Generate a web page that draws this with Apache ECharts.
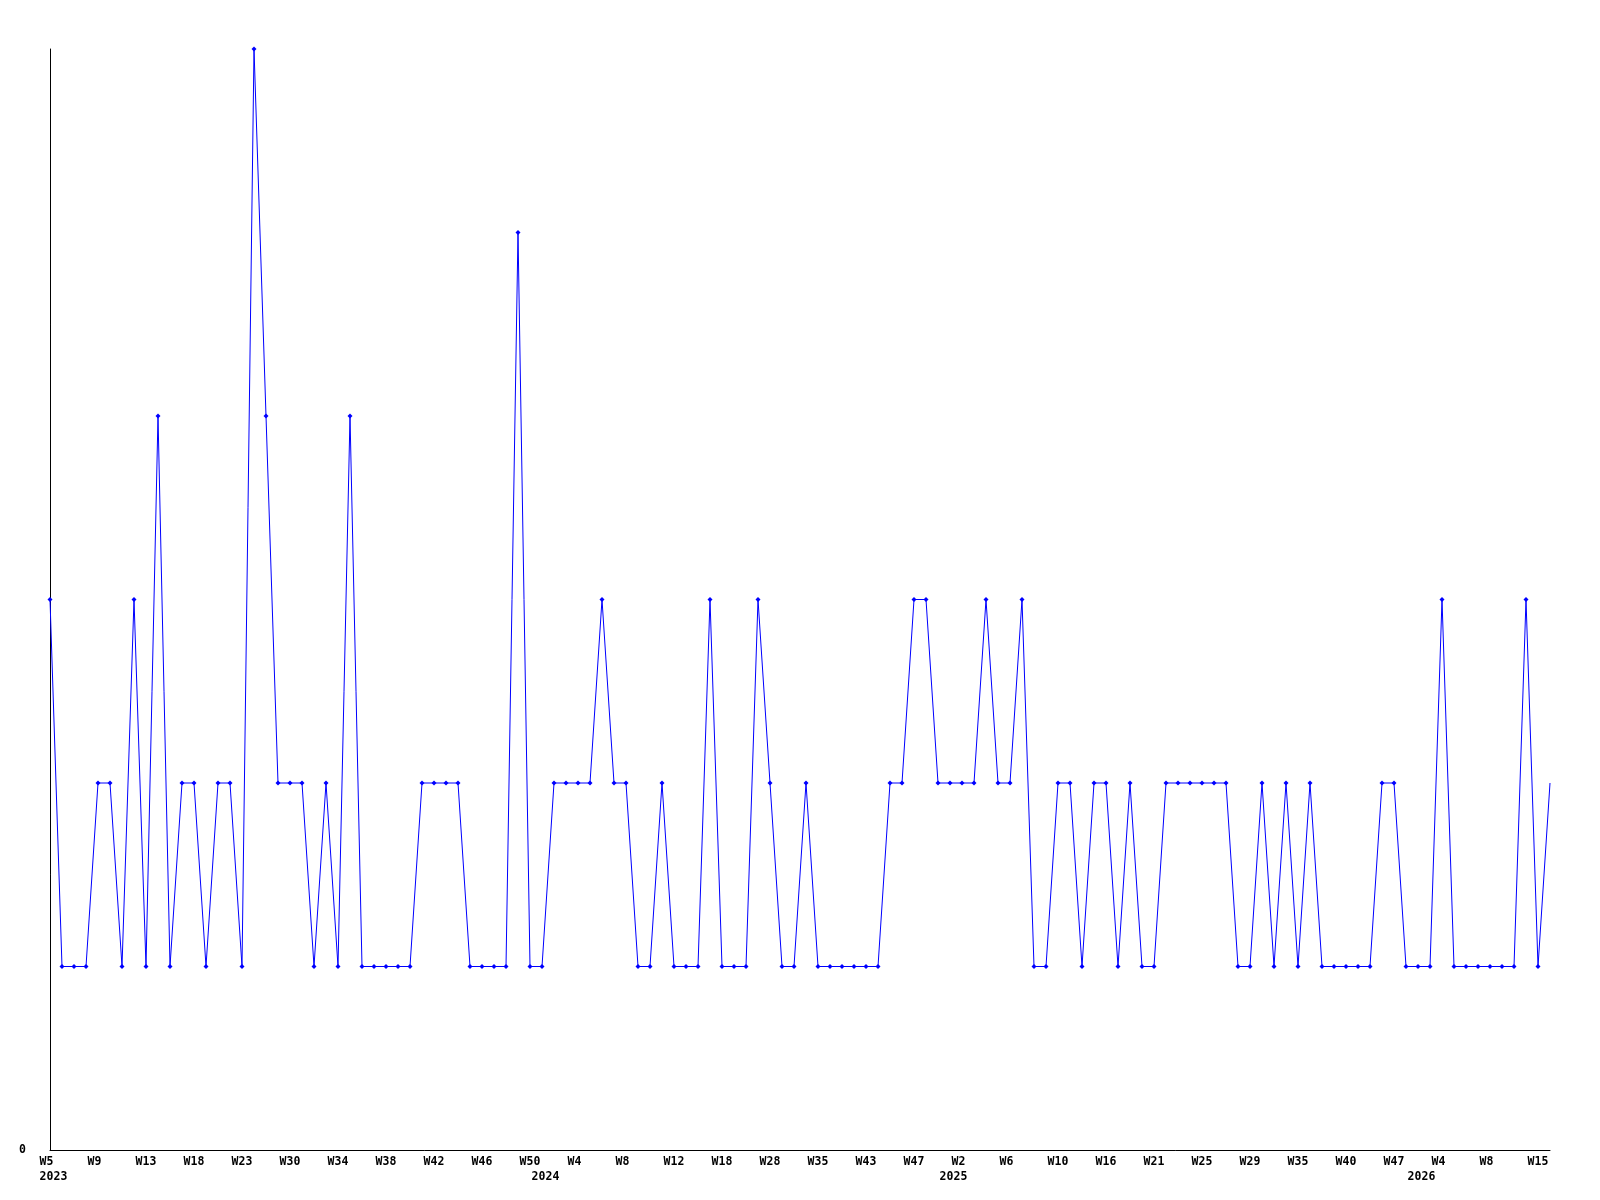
<!DOCTYPE html>
<html>
<head>
<meta charset="utf-8">
<script src="https://cdn.jsdelivr.net/npm/echarts@6/dist/echarts.min.js"></script>
<style>
html,body{margin:0;padding:0;background:#fff;}
#c{width:1600px;height:1200px;}
</style>
</head>
<body>
<div id="c"></div>
<script>
// Category weeks (year-week); only weeks present in the data
const weeks = [
  "2023-W5","2023-W6","2023-W7","2023-W8","2023-W9","2023-W10","2023-W11","2023-W12",
  "2023-W13","2023-W14","2023-W15","2023-W16","2023-W18","2023-W19","2023-W20","2023-W21",
  "2023-W23","2023-W24","2023-W26","2023-W28","2023-W30","2023-W31","2023-W32","2023-W33",
  "2023-W34","2023-W35","2023-W36","2023-W37","2023-W38","2023-W39","2023-W40","2023-W41",
  "2023-W42","2023-W43","2023-W44","2023-W45","2023-W46","2023-W47","2023-W48","2023-W49",
  "2023-W50","2024-W1","2024-W2","2024-W3","2024-W4","2024-W5","2024-W6","2024-W7",
  "2024-W8","2024-W9","2024-W10","2024-W11","2024-W12","2024-W13","2024-W15","2024-W16",
  "2024-W18","2024-W20","2024-W23","2024-W25","2024-W28","2024-W30","2024-W32","2024-W33",
  "2024-W35","2024-W37","2024-W39","2024-W41","2024-W43","2024-W44","2024-W45","2024-W46",
  "2024-W47","2024-W49","2024-W51","2025-W1","2025-W2","2025-W3","2025-W4","2025-W5",
  "2025-W6","2025-W7","2025-W8","2025-W9","2025-W10","2025-W11","2025-W13","2025-W14",
  "2025-W16","2025-W17","2025-W19","2025-W20","2025-W21","2025-W22","2025-W23","2025-W24",
  "2025-W25","2025-W26","2025-W27","2025-W28","2025-W29","2025-W31","2025-W32","2025-W34",
  "2025-W35","2025-W36","2025-W38","2025-W39","2025-W40","2025-W42","2025-W44","2025-W45",
  "2025-W47","2025-W50","2026-W1","2026-W3","2026-W4","2026-W5","2026-W6","2026-W7",
  "2026-W8","2026-W10","2026-W12","2026-W13","2026-W15","2026-W16"
];

// Weekly counts
const counts = [
  3,1,1,1,2,2,1,3,1,4,1,2,2,1,2,2,1,6,4,2,
  2,2,1,2,1,4,1,1,1,1,1,2,2,2,2,1,1,1,1,5,1,1,2,
  2,2,2,3,2,2,1,1,2,1,1,1,3,1,1,1,3,2,1,1,2,1,
  1,1,1,1,1,2,2,3,3,2,2,2,2,3,2,2,3,1,1,2,2,
  1,2,2,1,2,1,1,2,2,2,2,2,2,1,1,2,1,2,1,2,1,1,
  1,1,1,2,2,1,1,1,3,1,1,1,1,1,1,3,1,2
];

// Y tick labels
const yTicks = [0];

const chart = echarts.init(document.getElementById('c'), null, {renderer: 'canvas'});

const yearOf = w => w.split('-')[0];
const weekOf = w => w.split('-')[1];
const firstOfYear = weeks.map((w, i) => i === 0 || yearOf(weeks[i - 1]) !== yearOf(w));

const labelFont = {
  fontFamily: 'DejaVu Sans Mono',
  fontWeight: 'bold',
  fontSize: 11.5,
  color: '#000'
};

chart.setOption({
  backgroundColor: '#ffffff',
  animation: false,
  grid: {left: 50, right: 50, top: 49, bottom: 50, containLabel: false},
  xAxis: [{
    type: 'category',
    data: weeks,
    boundaryGap: false,
    axisLine: {show: true, lineStyle: {color: '#000', width: 1}},
    axisTick: {show: false},
    splitLine: {show: false},
    axisLabel: Object.assign({
      interval: 3,
      margin: 6,
      hideOverlap: false,
      formatter: v => {
        const s = weekOf(v);
        return s.length < 3 ? s + ' '.repeat(3 - s.length) : s;
      }
    }, labelFont)
  }, {
    type: 'category',
    data: weeks,
    position: 'bottom',
    boundaryGap: false,
    axisLine: {show: false},
    axisTick: {show: false},
    splitLine: {show: false},
    axisLabel: Object.assign({
      interval: (idx) => firstOfYear[idx],
      margin: 21,
      hideOverlap: false,
      formatter: v => ' ' + yearOf(v)
    }, labelFont)
  }],
  yAxis: {
    type: 'value',
    min: 0,
    max: 6,
    interval: 6,
    axisLine: {show: true, lineStyle: {color: '#000', width: 1}},
    axisTick: {show: false},
    splitLine: {show: false},
    axisLabel: Object.assign({
      margin: 24,
      formatter: v => (yTicks.indexOf(v) >= 0 ? String(v) : '')
    }, labelFont)
  },
  series: [{
    type: 'line',
    data: counts,
    xAxisIndex: 0,
    symbol: (val, params) => params.dataIndex === counts.length - 1 ? 'none' : 'diamond',
    symbolSize: 5,
    showAllSymbol: true,
    lineStyle: {color: '#0000ff', width: 1},
    itemStyle: {color: '#0000ff'},
    clip: false
  }]
});
</script>
</body>
</html>
